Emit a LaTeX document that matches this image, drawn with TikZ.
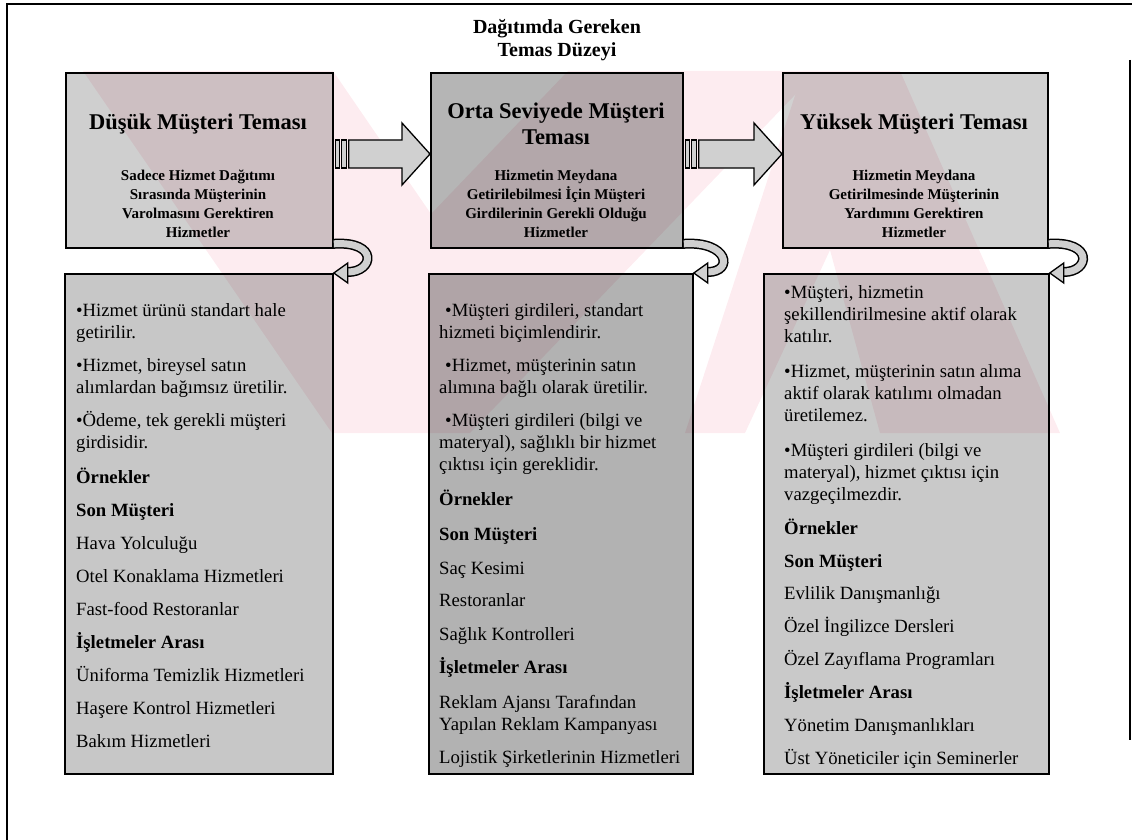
\documentclass[tikz,border=0pt]{standalone}
\usepackage{fontspec}
\setmainfont{Liberation Serif}
\usetikzlibrary{calc}
\definecolor{wmpink}{RGB}{253,236,240}
\definecolor{arrowgray}{RGB}{208,208,208}
\newcommand{\bodyfont}{\fontsize{18.7pt}{22pt}\selectfont}
\newcommand{\headfont}{\fontsize{22.5pt}{25pt}\selectfont\bfseries}
\newcommand{\subfont}{\fontsize{15pt}{19pt}\selectfont\bfseries}
\newcommand{\titlefont}{\fontsize{20pt}{23pt}\selectfont\bfseries}
\newcommand{\blockarrow}[3]{%
  \coordinate (#3s) at ($(#1.north east)+(0,82)$);
  \coordinate (#3e) at ($(#2.north west)+(0,82)$);
  \draw[barrow] ($(#3s)+(2,-14)$) rectangle ($(#3s)+(6,14)$);
  \draw[barrow] ($(#3s)+(8,-14)$) rectangle ($(#3s)+(13,14)$);
  \draw[barrow] ($(#3s)+(15,-14)$) -- ($(#3e)+(-28,-14)$) -- ($(#3e)+(-28,-31)$) -- (#3e)
     -- ($(#3e)+(-28,31)$) -- ($(#3e)+(-28,14)$) -- ($(#3s)+(15,14)$) -- cycle;}
\newcommand{\curvarrow}[3]{%
  \coordinate (#3s) at ($(#1.south east)+(0,-5)$);
  \coordinate (#3e) at ($(#2.north east)+(14,-1)$);
  \draw[line width=10pt, black] (#3s) .. controls ($(#3s)+(45,-3)$) and ($(#3e)+(26,0)$) .. (#3e);
  \draw[line width=7pt, arrowgray] (#3s) .. controls ($(#3s)+(45,-3)$) and ($(#3e)+(26,0)$) .. (#3e);
  \draw[barrow] (#2.north east) -- ($(#2.north east)+(14,-10)$) -- ($(#2.north east)+(14,10)$) -- cycle;}
\begin{document}
\begin{tikzpicture}[x=1pt,y=-1pt,
  outer/.style={line width=1.6pt},
  wmark/.style={fill=wmpink, draw=none},
  panel/.style={draw=black, line width=1.8pt, fill=black, anchor=north west, inner sep=0pt, rectangle},
  txt/.style={anchor=base west, inner sep=0pt},
  ctxt/.style={anchor=base, inner sep=0pt},
  barrow/.style={draw=black, line width=1.3pt, fill=arrowgray, line join=miter},
]
\useasboundingbox (0,0) rectangle (1132,840);
% watermark
\fill[wmark] (83,71) -- (333,71) -- (431,214) -- (568,71) -- (818,71) -- (470,433) -- (332,433) -- cycle;
\fill[wmark] (803,71) -- (900,71) -- (1060,433) -- (880,433) -- (830,250) -- (745,433) -- (685,433) -- cycle;
% outer frame
\draw[outer] (7,840) -- (7,4) -- (1132,4);
\draw[outer] (1130,60) -- (1130,740);
% title
\node[ctxt] (title) at (557,34) {\parbox[t]{300pt}{\centering\titlefont Dağıtımda Gereken\\Temas Düzeyi}};
% top panels
\node[panel, fill opacity=0.19, minimum width=267pt, minimum height=175pt] (t1) at (65,72) {};
\node[panel, fill opacity=0.29, minimum width=252pt, minimum height=175pt] (t2) at (430,72) {};
\node[panel, fill opacity=0.18, minimum width=265pt, minimum height=175pt] (t3) at (782,72) {};
% bottom panels
\node[panel, fill opacity=0.22, minimum width=268pt, minimum height=500pt] (b4) at (64,273) {};
\node[panel, fill opacity=0.30, minimum width=264pt, minimum height=500pt] (b5) at (428,273) {};
\node[panel, fill opacity=0.21, minimum width=285pt, minimum height=500pt] (b6) at (763,273) {};
% top texts
\node[ctxt] (h1) at (198,129) {\headfont Düşük Müşteri Teması};
\node[ctxt] (h2) at (556,119) {\parbox[t]{250pt}{\centering\headfont Orta Seviyede Müşteri\\Teması}};
\node[ctxt] (h3) at (914,129) {\headfont Yüksek Müşteri Teması};
\node[ctxt] (s1) at (198,180) {\parbox[t]{250pt}{\centering\subfont Sadece Hizmet Dağıtımı\\Sırasında Müşterinin\\Varolmasını Gerektiren\\Hizmetler}};
\node[ctxt] (s2) at (556,180) {\parbox[t]{250pt}{\centering\subfont Hizmetin Meydana\\Getirilebilmesi İçin Müşteri\\Girdilerinin Gerekli Olduğu\\Hizmetler}};
\node[ctxt] (s3) at (914,180) {\parbox[t]{250pt}{\centering\subfont Hizmetin Meydana\\Getirilmesinde Müşterinin\\Yardımını Gerektiren\\Hizmetler}};
% bottom texts
\node[txt] (l4) at (76,316) {\parbox[t]{300pt}{\bodyfont
•Hizmet ürünü standart hale\\
getirilir.\\[11pt]
•Hizmet, bireysel satın\\
alımlardan bağımsız üretilir.\\[11pt]
•Ödeme, tek gerekli müşteri\\
girdisidir.\\[13pt]
\textbf{Örnekler}\\[11pt]
\textbf{Son Müşteri}\\[11pt]
Hava Yolculuğu\\[11pt]
Otel Konaklama Hizmetleri\\[11pt]
Fast-food Restoranlar\\[11pt]
\textbf{İşletmeler Arası}\\[11pt]
Üniforma Temizlik Hizmetleri\\[11pt]
Haşere Kontrol Hizmetleri\\[11pt]
Bakım Hizmetleri}};
\node[txt] (l5) at (439,316) {\parbox[t]{300pt}{\bodyfont
\hspace*{6pt}•Müşteri girdileri, standart\\
hizmeti biçimlendirir.\\[11pt]
\hspace*{6pt}•Hizmet, müşterinin satın\\
alımına bağlı olarak üretilir.\\[11pt]
\hspace*{6pt}•Müşteri girdileri (bilgi ve\\
materyal), sağlıklı bir hizmet\\
çıktısı için gereklidir.\\[13pt]
\textbf{Örnekler}\\[13pt]
\textbf{Son Müşteri}\\[12pt]
Saç Kesimi\\[10pt]
Restoranlar\\[12pt]
Sağlık Kontrolleri\\[11pt]
\textbf{İşletmeler Arası}\\[13pt]
Reklam Ajansı Tarafından\\
Yapılan Reklam Kampanyası\\[11pt]
Lojistik Şirketlerinin Hizmetleri}};
\node[txt] (l6) at (784,298) {\parbox[t]{300pt}{\bodyfont
•Müşteri, hizmetin\\
şekillendirilmesine aktif olarak\\
katılır.\\[13pt]
•Hizmet, müşterinin satın alıma\\
aktif olarak katılımı olmadan\\
üretilemez.\\[13pt]
•Müşteri girdileri (bilgi ve\\
materyal), hizmet çıktısı için\\
vazgeçilmezdir.\\[12pt]
\textbf{Örnekler}\\[11pt]
\textbf{Son Müşteri}\\[10pt]
Evlilik Danışmanlığı\\[11pt]
Özel İngilizce Dersleri\\[11pt]
Özel Zayıflama Programları\\[11pt]
\textbf{İşletmeler Arası}\\[11pt]
Yönetim Danışmanlıkları\\[11pt]
Üst Yöneticiler için Seminerler}};
% connectors
\blockarrow{t1}{t2}{ba}
\blockarrow{t2}{t3}{bb}
\curvarrow{t1}{b4}{ca}
\curvarrow{t2}{b5}{cb}
\curvarrow{t3}{b6}{cc}
\end{tikzpicture}
\end{document}
